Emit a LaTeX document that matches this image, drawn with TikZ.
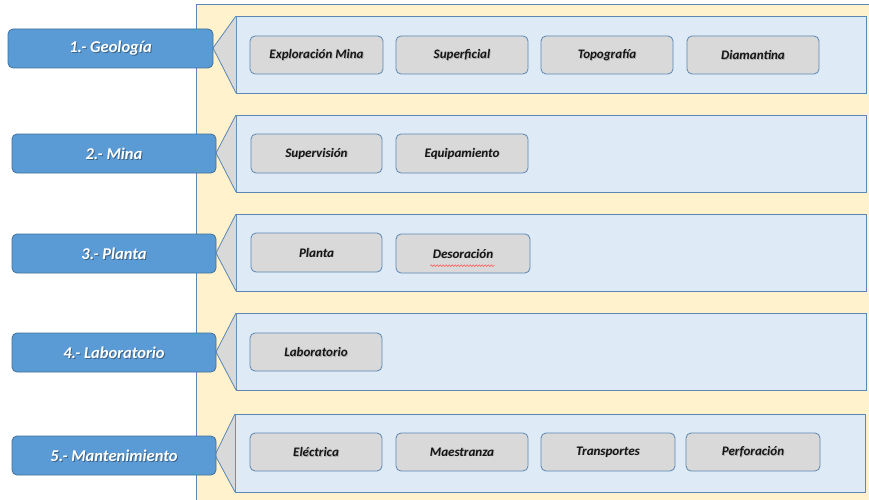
\documentclass[tikz,border=0pt]{standalone}
\usepackage{fontspec}
\setmainfont{Carlito}
\usetikzlibrary{decorations.pathmorphing}
\definecolor{bgyellow}{HTML}{FFF2CC}
\definecolor{panelblue}{HTML}{DEEAF6}
\definecolor{edgeblue}{HTML}{5A87B4}
\definecolor{darkedge}{HTML}{41719C}
\definecolor{labelblue}{HTML}{5B9BD5}
\definecolor{itemgray}{HTML}{D9D9D9}
\definecolor{textdark}{HTML}{151515}
\tikzset{
  x=1pt, y=-1pt,
  panel/.style={fill=panelblue, draw=edgeblue, line width=0.8pt},
  pointer/.style={fill=itemgray, draw=edgeblue, line width=0.8pt, line join=miter},
  areashape/.style={draw=darkedge, line width=0.8pt, fill=labelblue, rounded corners=5pt},
  areatext/.style={text=white, font=\fontsize{16.5}{18}\selectfont\bfseries\itshape},
  itemshape/.style={draw=edgeblue, line width=0.8pt, fill=itemgray, rounded corners=5pt},
  itemtext/.style={text=textdark, font=\fontsize{13}{15}\selectfont\bfseries\itshape},
  shadowtext/.style={text=black, opacity=0.35},
}
\newcommand{\areabox}[6]{% name, x1, y1, x2, y2, text
  \path[areashape] (#2,#3) rectangle (#4,#5);
  \node[areatext, shadowtext] at ({(#2+#4)/2+1},{(#3+#5)/2+1}) {#6};
  \node[areatext] (#1) at ({(#2+#4)/2},{(#3+#5)/2}) {#6};}
\newcommand{\itembox}[6]{% name, x1, y1, x2, y2, text
  \path[itemshape] (#2,#3) rectangle (#4,#5);
  \node[itemtext, shadowtext, opacity=0.2] at ({(#2+#4)/2+0.8},{(#3+#5)/2+0.8}) {#6};
  \node[itemtext] (#1) at ({(#2+#4)/2},{(#3+#5)/2}) {#6};}
\begin{document}
\begin{tikzpicture}
\useasboundingbox (0,0) rectangle (869,500);
\clip (0,0) rectangle (869,500);
% background band
\fill[white] (0,0) rectangle (869,500);
\draw[fill=bgyellow, draw=edgeblue, line width=0.8pt] (196,4) rectangle (880,510);

% row 1: Geología
\draw[panel] (236,16) rectangle (866,93);
\draw[pointer] (236,16) -- (213,48) -- (236,93);
\areabox{a1}{8}{29}{213}{68}{1.- Geología}
\itembox{g1}{250}{36}{383}{74}{Exploración Mina}
\itembox{g2}{396}{36}{528}{74}{Superficial}
\itembox{g3}{541}{36}{673}{74}{Topografía}
\itembox{g4}{687}{36}{819}{74}{Diamantina}

% row 2: Mina
\draw[panel] (236,115) rectangle (866,192);
\draw[pointer] (236,115) -- (216,153) -- (236,192);
\areabox{a2}{12}{134}{216}{173}{2.- Mina}
\itembox{m1}{251}{134}{382}{173}{Supervisión}
\itembox{m2}{396}{134}{528}{173}{Equipamiento}

% row 3: Planta
\draw[panel] (236,214) rectangle (866,291);
\draw[pointer] (236,214) -- (216,253) -- (236,291);
\areabox{a3}{12}{234}{216}{273}{3.- Planta}
\itembox{p1}{251}{233}{382}{272}{Planta}
\itembox{p2}{396}{234}{530}{273}{Desoración}
\draw[red!70, line width=0.5pt, decorate,
  decoration={snake, amplitude=0.8pt, segment length=3pt}]
  ([xshift=1pt,yshift=-4pt]p2.south west) -- ([xshift=-2pt,yshift=-4pt]p2.south east);

% row 4: Laboratorio
\draw[panel] (236,313) rectangle (866,390);
\draw[pointer] (236,313) -- (216,352) -- (236,390);
\areabox{a4}{12}{333}{216}{372}{4.- Laboratorio}
\itembox{l1}{250}{333}{382}{371}{Laboratorio}

% row 5: Mantenimiento
\draw[panel] (235,414) rectangle (865,492);
\draw[pointer] (235,414) -- (215,455) -- (235,492);
\areabox{a5}{12}{436}{216}{475}{5.- Mantenimiento}
\itembox{t1}{250}{433}{382}{471}{Eléctrica}
\itembox{t2}{396}{433}{528}{471}{Maestranza}
\itembox{t3}{541}{433}{675}{471}{Transportes}
\itembox{t4}{686}{433}{820}{471}{Perforación}
\end{tikzpicture}
\end{document}
